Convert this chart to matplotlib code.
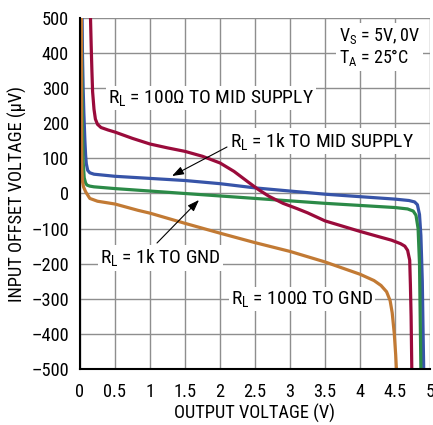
import matplotlib
matplotlib.use("Agg")
import matplotlib.pyplot as plt
from matplotlib import font_manager as fm

names = {f.name for f in fm.fontManager.ttflist}
FONT = "Liberation Sans"
for cand in ["Nimbus Sans Narrow", "Liberation Sans Narrow", "Roboto Condensed", "Archivo Narrow",
             "PT Sans Narrow", "Pragati Narrow"]:
    if cand in names:
        FONT = cand
        break
plt.rcParams['font.family'] = [FONT, 'DejaVu Sans']
plt.rcParams['mathtext.fontset'] = 'custom'
plt.rcParams['mathtext.rm'] = FONT
plt.rcParams['mathtext.it'] = FONT
plt.rcParams['mathtext.default'] = 'rm'

# ---- data ----
red_x = [0.15, 0.16, 0.17, 0.18, 0.20, 0.22, 0.25, 0.30, 0.40, 0.5, 0.75, 1.0, 1.25, 1.5, 1.75, 2.0,
         2.2, 2.4, 2.55, 2.7, 2.9, 3.1, 3.25, 3.5, 3.75, 4.0, 4.25, 4.45, 4.58, 4.64, 4.68, 4.71, 4.72, 4.73, 4.74]
red_y = [500, 420, 350, 290, 240, 212, 197, 188, 181, 175, 157, 141, 130, 120, 106, 87,
         63, 33, 11, -8, -28, -43, -55, -78, -93, -108, -122, -133, -143, -150, -162, -190, -260, -350, -500]

blue_x = [0.03, 0.035, 0.045, 0.055, 0.07, 0.08, 0.09, 0.11, 0.14, 0.2, 0.5, 1.0, 1.5, 2.0, 2.5, 3.0, 3.5,
          4.0, 4.5, 4.7, 4.78, 4.82, 4.85, 4.87, 4.89, 4.90, 4.91]
blue_y = [500, 400, 300, 230, 150, 110, 85, 66, 59, 55, 49, 43, 37, 28, 16, 7, -2,
          -9, -16, -20, -24, -32, -60, -120, -250, -380, -500]

green_x = [0.02, 0.025, 0.035, 0.045, 0.06, 0.08, 0.10, 0.14, 0.2, 0.5, 1.0, 1.5, 2.0, 2.5, 3.0, 3.5,
           4.0, 4.5, 4.68, 4.76, 4.8, 4.83, 4.85, 4.86, 4.87]
green_y = [500, 350, 180, 90, 45, 30, 24, 21, 19, 14, 7, 0, -7, -14, -21, -28,
           -34, -40, -44, -50, -62, -100, -200, -350, -500]

orange_x = [0.02, 0.021, 0.023, 0.026, 0.035, 0.05, 0.08, 0.14, 0.25, 0.5, 0.83, 1.0, 1.5, 2.0, 2.5, 3.0,
            3.5, 4.0, 4.2, 4.3, 4.38, 4.43, 4.46, 4.49, 4.51, 4.52]
orange_y = [500, 300, 150, 70, 35, 19, 5, -14, -22, -30, -48, -56, -85, -113, -140, -165,
            -195, -230, -248, -262, -280, -305, -340, -400, -460, -500]

xticks = [0, 0.5, 1, 1.5, 2, 2.5, 3, 3.5, 4, 4.5, 5]
xticklabels = ["0", "0.5", "1", "1.5", "2", "2.5", "3", "3.5", "4", "4.5", "5"]
yticks = [500, 400, 300, 200, 100, 0, -100, -200, -300, -400, -500]
yticklabels = ["500", "400", "300", "200", "100", "0", "\u2013100", "\u2013200", "\u2013300", "\u2013400", "\u2013500"]

W, H = 433, 425
fig = plt.figure(figsize=(W / 100, H / 100), dpi=100)
ax = fig.add_axes([80 / W, (H - 369) / H, 350 / W, 351 / H])
ax.set_xlim(0, 5)
ax.set_ylim(-500, 500)

lw = 2.3
ax.plot(blue_x, blue_y, color="#3754a8", lw=lw, zorder=3, solid_capstyle='butt')
ax.plot(green_x, green_y, color="#2b8a47", lw=lw, zorder=3.1, solid_capstyle='butt')
ax.plot(orange_x, orange_y, color="#c27a34", lw=lw, zorder=3.2, solid_capstyle='butt')
ax.plot(red_x, red_y, color="#9a0b3b", lw=lw, zorder=3.3, solid_capstyle='butt')

FS = 13.2
ax.set_xticks(xticks)
ax.set_xticklabels(xticklabels)
ax.set_yticks(yticks)
ax.set_yticklabels(yticklabels)
ax.tick_params(axis="y", length=0, labelsize=FS, pad=8, colors="black")
ax.tick_params(axis="x", length=0, labelsize=FS, pad=10, colors="black")
ax.grid(True, color="#8e8e8e", lw=1.0, zorder=1)
for s in ("top", "right"):
    ax.spines[s].set_visible(False)
for s in ("left", "bottom"):
    ax.spines[s].set_linewidth(1.5)
    ax.spines[s].set_zorder(5)

ax.set_xlabel("OUTPUT VOLTAGE (V)", fontsize=FS, labelpad=2)
ax.set_ylabel("INPUT OFFSET VOLTAGE (\u03bcV)", fontsize=FS, labelpad=3)

box = dict(facecolor="white", edgecolor="none", pad=1.5)

def px(x, y):
    inv = ax.transData.inverted()
    return inv.transform((x, H - y))

AFS = 14
t = dict(fontsize=AFS, bbox=box, zorder=2.5, va="center")
ax.text(*px(108, 98), r"R$_\mathrm{L}$ = 100Ω TO MID SUPPLY", ha="left", **t)
ax.text(*px(230, 141), r"R$_\mathrm{L}$ = 1k TO MID SUPPLY", ha="left", **t)
ax.text(*px(100, 258), r"R$_\mathrm{L}$ = 1k TO GND", ha="left", **t)
ax.text(*px(231, 299), r"R$_\mathrm{L}$ = 100Ω TO GND", ha="left", **t)
ax.text(*px(339, 47), r"V$_\mathrm{S}$ = 5V, 0V" + "\n" + r"T$_\mathrm{A}$ = 25°C", ha="left",
        fontsize=13, bbox=dict(facecolor="white", edgecolor="none", pad=2), zorder=2.5, va="center",
        linespacing=1.1)

arrow = dict(arrowstyle="-|>,head_length=0.7,head_width=0.25", color="black", lw=0.8, shrinkA=0, shrinkB=0)
ax.annotate("", xy=px(172, 176), xytext=px(227, 147), arrowprops=arrow, zorder=7)
ax.annotate("", xy=px(199, 200), xytext=px(157, 243), arrowprops=arrow, zorder=7)

fig.savefig("out.png", dpi=100)
